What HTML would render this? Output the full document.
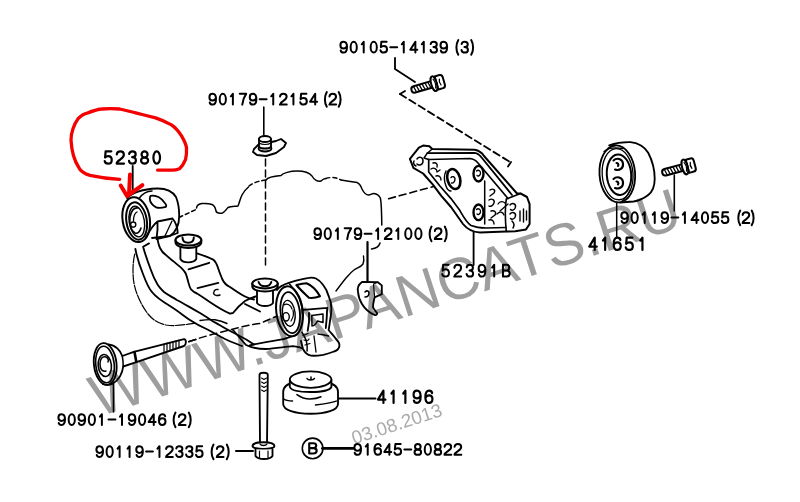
<!DOCTYPE html>
<html><head><meta charset="utf-8">
<style>
html,body{margin:0;padding:0;background:#fff;width:800px;height:502px;overflow:hidden}
svg{position:absolute;left:0;top:0;display:block}
.l{font-family:"Liberation Sans",sans-serif;fill:#000;stroke:#000}
.b{font-size:18.5px;stroke-width:0.5px}
.wm{font-family:"Liberation Sans",sans-serif;fill:#9e9e9e}
</style></head><body>
<svg width="800" height="502" viewBox="0 0 800 502">
<!-- watermark -->


<!-- LINE ART -->
<g fill="none" stroke="#000" stroke-width="1.85" stroke-linecap="round" stroke-linejoin="round">
<!-- 90105 bolt leader -->
<path d="M395,58 V69 L415,82"/>
<!-- 90105 bolt -->
<g transform="translate(436.5,83) rotate(-16)">
 <path d="M-3,-3.3 H-23 Q-26,-3.3 -26,0 Q-26,3.3 -23,3.3 H-3" fill="#fff" stroke-width="2"/>
 <path d="M-23.0,-2.6 L-21.8,2.6 M-20.0,-2.6 L-18.8,2.6 M-17.0,-2.6 L-15.8,2.6 M-14.0,-2.6 L-12.8,2.6 M-11.0,-2.6 L-9.8,2.6 M-8.0,-2.6 L-6.8,2.6" stroke-width="1.3"/>
 <path d="M0,-6.8 H5 Q7.6,-6.8 7.6,-3.5 V3.5 Q7.6,6.8 5,6.8 H0 Z" fill="#fff" stroke-width="2"/>
 <path d="M3.8,-3 C2.8,-1 2.8,1 3.8,3" stroke-width="1.3"/>
 <ellipse cx="-2.6" cy="0" rx="2.8" ry="7.6" fill="#fff" stroke-width="2"/>
 <path d="M-2.2,-4.5 C-1,-2 -1,2 -2.2,4.5" stroke-width="1.2"/>
</g>
<!-- dashed from 90105 to bracket -->
<path d="M405,91 L400,94"/>
<path d="M400,94 L510,162" stroke-dasharray="7,4"/>
<path d="M511,162 L508,166.5"/>

<!-- 90179-12154 clip -->
<path d="M263.8,107 V135" stroke-width="1.6"/>
<path d="M254,149 L258,145 L276,141 L281,139 L286,143 L284,147 L276,153 L266,156 L257,155 L253,152 Z" fill="#fff"/>
<ellipse cx="265" cy="148.5" rx="6.5" ry="3"/>
<path d="M259,139 V147 C261,149 269,149 271,147 V139" fill="#fff"/>
<path d="M259,143 C262,145 268,145 271,143" stroke-width="1.2"/>
<ellipse cx="265" cy="139" rx="6" ry="3" fill="#fff"/>
<!-- vertical dashed -->
<path d="M265.5,159 V265" stroke-dasharray="7,4" stroke-width="1.5"/>

<!-- wavy frame outline -->
<path d="M179,217.5 L196,209.5" stroke-dasharray="4,3" stroke-width="1.5"/>
<path d="M196.5,208 C197,205 199,204 202,203.6 C205,203.4 209,203.5 212,204.5 C214.5,205.5 215.5,208 216,211 C216.5,213 219,213.5 222.5,213 C225,212 226,209.5 228,207.5 C231,206 235,206.5 238,206 C239,204 240,199 242,195 C244,191 246,189 248.5,187" stroke-width="1.5"/>
<path d="M249,186 C253,183 258,181 266,180" stroke-dasharray="4,3" stroke-width="1.5"/>
<path d="M266,180 C268,177 275,176 281,175.5 C283,173 290,171 297,171 C304,171 309,172 312,176 C314,180 318,182 321,181 C323,179 325,178.5 326,178.5" stroke-width="1.4"/>
<path d="M326,178.5 C330,177 336,177 341,180" stroke-dasharray="4,3" stroke-width="1.4"/>
<path d="M341,180 C346,181 352,181.5 357.2,182.6 C360,184 361,186 362,189 C363.5,192 366,195 368.5,195 C371,195 372,193.3 374,193.5 C377,194 379,195.5 380.3,198 C381.5,202 381.6,210 381.8,225" stroke-width="1.5"/>
<path d="M380,243 C379,246.5 375.5,248.5 371.5,249" stroke-width="1.5"/>
<path d="M363.5,256 C364,259 364,262 363,264 C361,267 357,268 354,270 C350,273 348,276 346,278 C342,283 339,287 336,291" stroke-width="1.4"/>
<path d="M388.6,198.7 L450,182" stroke-dasharray="7,4" stroke-width="1.6"/>
</g>


<!-- PARTS2 -->
<g fill="none" stroke="#000" stroke-width="1.85" stroke-linecap="round" stroke-linejoin="round">
<!-- leaders -->
<path d="M132.7,166 V193"/>
<path d="M367.5,242 V282" stroke-width="2.2"/>
<path d="M473.6,232 V265"/>
<path d="M616.7,202 V237" stroke-width="1.5"/>
<path d="M674.3,175 V211" stroke-width="1.6"/>
<path d="M113.5,384 V412" stroke-width="1.6"/>
<path d="M236,451.1 H253" stroke-width="2"/>
<path d="M338,398.5 H375.5" stroke-width="2"/>
<path d="M322.5,448.4 H353" stroke-width="2.9"/>
<circle cx="312.6" cy="448.4" r="10.3" stroke-width="1.6"/>

<!-- 52380 bushing -->
<g>
 <path d="M127,198 C133,192 145,189 157,188.5 C166,188.3 172,190.5 176,197 C178.5,203 179.2,210 179.2,216 C179.2,224 177,231 170,236 L152,238" fill="#fff"/>
 <ellipse cx="136.2" cy="219.6" rx="13.6" ry="22.6" transform="rotate(-9 136.2 219.6)" fill="#fff" stroke-width="2"/>
 <ellipse cx="136.6" cy="221" rx="10.2" ry="18.8" transform="rotate(-9 136.6 221)" stroke-width="2"/>
 <ellipse cx="136.8" cy="221.5" rx="7.6" ry="15.5" transform="rotate(-9 136.8 221.5)" stroke-width="1.4"/>
 <path d="M138,208 C134,207 131,211 130,217 C129,224 131,231 135,233 C138,234 140,231 141,228" stroke-width="1.6"/>
 <path d="M137,212 C135,213 133.5,217 133.5,221" stroke-width="1.3"/>
 <circle cx="133.2" cy="224.6" r="2.6" stroke-width="1.4"/>
 <path d="M150.6,195.9 C156,195 161,198 164.2,202.3 C166,204 166.5,206 165.8,206.8 C162,208 158,208 156.2,207.4 C152,205 150,202 149.8,199.1 C149.8,197.5 150,196.5 150.6,195.9 Z" stroke-width="1.8"/>
 <path d="M139,198.5 C143,193 148,191 152,191" stroke-width="1.5"/>
 <path d="M146,237 C150,230 154,224 157.5,221.5 L172.5,218.5 M157.5,221.5 C157.8,227 157.5,233 156.5,239 M172.5,218.5 C175.5,222 177.5,228 177.7,233 C172,235.5 164,237.5 156.5,239"/>
 <path d="M172,221 L164.5,237" stroke-width="1.3"/>
</g>

<!-- control arm -->
<g>
 <!-- phantom thin line -->
 <path d="M134.7,254 C133,262 132.5,270 133.5,280 C135,292 141,305 148,314 C153,320 158,323 166,325 C175,326.5 186,324.5 195,323.2" stroke-width="1.2" stroke-dasharray="9,1.5"/>
 <path d="M200,320.5 C206,319.5 211,319.5 215,319.7 C220,320.5 224,322 227,323.5" stroke-width="1.4"/>
 <!-- L1 -->
 <path d="M135.4,249 C136.5,255 139,264 143,274 C146,282 149,289 152,292 C155,296 160,300 170,306 C178,311 184,316 189.5,319.7 C196,324 202,327 207.5,329.5 C215,333.5 220,336.5 224,338.5 C230,341.5 237,344 242,346"/>
 <!-- L2 -->
 <path d="M149,243.4 L143.1,246.7 C144,250 146,257 150.9,270 C153,276 155.5,281 157.4,284.2 C159,287 161,289 164,292 C168,295 172,297 176.8,300 C183,303 190,307.5 200,313 C205,316 208,318 210.5,319.7 C214,322 217,323.5 219.5,325 C226,329 231,331.5 236,334 C243,337.5 249,341 254,344.5"/>
 <!-- L3 -->
 <path d="M157.4,238.9 C158,242 159,246 160,248 C161.5,251 163,253 165.2,254.4 C168,257 170.5,259 172.9,260.9 C176,263.5 178.5,265.5 180.7,267.4 C183,269.5 185,271.5 185.9,273.9 C187,277 187.8,280 188.5,282.9 C189.3,286 190,288 191,289.4 C193,291.5 195,293 197,293.5 C202,296.5 206,299.5 210.5,302.5 C218,307.5 225,311.5 230,313.7 L233,313 C237,308 241,304 245,301 C249,299 252,297.5 255.5,296.5"/>
 <!-- L4 -->
 <path d="M196.2,253.1 C202,255 208,257 213.1,259.6 C215.5,261.5 217,264.5 218.3,268.7 C219.5,272.5 221,276 222.2,279 C224,283 226.5,285.5 230,287 C235,290.5 240,294 245,296.5 C248,298 251,299 254,299.5"/>
 <!-- cross lines -->
 <path d="M188.5,269.3 L209.2,262.8"/>
 <path d="M197.5,288.1 L218.3,282.9"/>
 <path d="M214,292 C214,290 216,289 218,289.5 M213.5,293 C214,295.5 217,296 220,295" stroke-width="1.4"/>
 <!-- L5 lower -->
 <path d="M245,304 C250,306.5 255,309 260,311.5"/>
 <!-- stud 1 -->
 <path d="M180.4,246 V259 C183,263.5 193.5,263.5 196.3,259 V246" fill="#fff"/>
 <path d="M175.5,240 V242.3 C175.5,245.6 181,247.9 188.4,247.9 C195.8,247.9 201.3,245.6 201.3,242.3 V240" fill="#fff" stroke-width="2"/>
 <ellipse cx="188.4" cy="240" rx="12.9" ry="5.6" fill="#fff" stroke-width="2"/>
 <path d="M182.5,237.6 C182.5,241.3 185,242.8 188.2,242.8 C191.4,242.8 193.8,241.3 193.8,237.6" stroke-width="2"/>
 <!-- stud 2 -->
 <path d="M257,290 V303 C260,307 270,307 273,303 V290" fill="#fff"/>
 <path d="M252.3,283.4 V286.5 C252.3,289.5 258,291.5 265,291.5 C272,291.5 277.7,289.5 277.7,286.5 V283.4" fill="#fff" stroke-width="2"/>
 <ellipse cx="265" cy="283.4" rx="12.7" ry="5" fill="#fff" stroke-width="2"/>
 <path d="M258.6,282 C259.5,285 262,286.3 265,286.3 C268,286.3 270.5,285 271.3,282" stroke-width="2"/>
 <!-- bottom edges near bushing 2 -->
 <path d="M233,330 L246,345 C252,348 258,349 266,349 C275,348.5 284,347 292.8,346.2 C298,346.5 303,348.5 307.1,350.7" />
 <path d="M249.7,345.3 C260,343 272,341 283.8,339 C292,336.5 299,333.5 305.3,331"/>
</g>

<!-- bushing 2 -->
<g>
 <path d="M277,290 C279,287 284,284.5 289.5,282.7 C296,280.5 303,278.5 309,277.8 C312,277.3 314,277.6 316,278.5 C319,280 321,282 323,284.8 C325.5,288 327.5,292 328.6,295.9 C330.5,300 331.4,304 331.4,308.5 C331.4,313 330.8,317 330,321 C329.5,325 329,328 328.6,330 C331,333 334,336 336,339 C338.5,341.5 339.7,344 339.4,346 C339,348.5 337.5,350.5 334,351.5 C330,353 327,354 323.3,354.8 C319,355.5 315,356 311,355.6 C307,355 304.5,352 303,349 L301,341" fill="#fff"/>
 <ellipse cx="289.5" cy="311.3" rx="13.2" ry="25.1" transform="rotate(-7 289.5 311.3)" fill="#fff" stroke-width="2"/>
 <ellipse cx="290.2" cy="312.6" rx="9.6" ry="20.6" transform="rotate(-7 290.2 312.6)" stroke-width="1.8"/>
 <ellipse cx="288.8" cy="313.3" rx="6.3" ry="13" transform="rotate(-7 288.8 313.3)" stroke-width="1.4"/>
 <ellipse cx="286" cy="316.8" rx="3.3" ry="4.2" stroke-width="1.4"/>
 <path d="M284,305 C287,303 291,305 292,309 M291,321 C293,318 294,314 293,310" stroke-width="1.2"/>
 <path d="M289.5,284 C293,288 297,293 299.5,299 C301.5,304 302.5,309 302.5,314" stroke-width="1.6"/>
 <path d="M296.4,285 C300,284 303,283.2 306.6,283.2 C311,285 316.5,290 320,296.2 C316,297.8 312.5,298.2 309,297.8 C305,294 300,289.5 296.4,285 Z" stroke-width="2.1"/>
 <path d="M303.5,309.9 L327.2,307.8 M309,313 C309.5,319 309,325 307.7,330.8 M327.2,307.8 C327,315 326.5,322 325.8,328"/>
 <path d="M311.8,315.4 L323,314 L323,322.4 L317.4,321 C316,324 314,326 312,326 Z" stroke-width="1.5"/>
 <path d="M302,332.2 C303.5,335 305,337.5 306.3,340.5 C307,344 307.5,348 307.1,351" stroke-width="1.5"/>
 <path d="M303,335.5 L308,333.5 M304,340 C306,341 308,341 309,339 M305,345 L310,343.5" stroke-width="1.2"/>
 <path d="M318,334 C322,334.5 325.5,335 328.5,336" stroke-width="1.5"/>
 <path d="M314,336 L316,352" stroke-width="1.3"/>
</g>

<!-- dashed lines (bolt to arm) -->
<path d="M189,341.5 C205,336 225,331 241,327 C250,325 256,323.7 260,323.5 C266,321 272,318 277,316" stroke-width="1.5" stroke-dasharray="7,4"/>


<!-- 90179-12100 clip -->
<path d="M362,282 C358,285 357,288 358,292 C358.5,297 360,301 362,304 C365,309 370,313 374.6,315 C376.5,315.5 377.5,314 377,313 C375.5,311 373.5,309 373,307 C373,303 374,300 374.6,297.4 L381.8,294.2 L381.8,285.4 L377.8,282.2 Z" fill="#fff"/>
<path d="M374.6,297.4 L373.5,284 M373.5,284 L377.8,282.2" stroke-width="1.2"/>
<path d="M365,292 C367,290 369,291 369,293 C369,295 368,297 365,297" stroke-width="1.6"/>

<!-- bracket 52391B -->
<g>
 <path d="M409.9,158.8 L418.9,147.7 L423.1,145.6 L429.4,146.3 L432.2,149 L474.7,149.8 C479,150.5 482,153 484,156 L517,193.5 L520.6,193.5 L527,197 L529.6,204.2 L529.6,224 L526,229.4 L515.3,231.2 L506.3,231.5 L480,232.5 C472,232 467,229 463,224 L451,207 L441.3,195.8 L432.9,184.6 L423.1,173.5 L413.4,167.9 Z" fill="#fff" stroke-width="2"/>
 <path d="M427.3,153.2 L474.5,152.8 C478,153.3 480,155 482,158 L512,195"/>
 <path d="M428.7,159.5 L470,158.5 C474,158.8 476,160.5 478,163 L508,198.5" stroke-width="1.7"/>
 <path d="M428.7,159.5 L428.7,172 L439.9,186 L451,198.6 L459.4,209.7 C463,216 466,222 471,225.5 C476,227.5 481,228 486,228 L506,227.5" stroke-width="1.7"/>
 <path d="M432.2,149 L427.3,153.2 L424,158 L428.7,159.5" stroke-width="1.5"/>
 <ellipse cx="453.8" cy="179" rx="6.3" ry="10.2" transform="rotate(-15 453.8 179)" stroke-width="2.6"/>
 <path d="M451,177.6 C452,176 455,176.5 455,179 C455,182 453,183.5 451.5,183" stroke-width="1.4"/>
 <path d="M446,171 C444,175 444,181 446,186 C447,189 449,191 451,191" stroke-width="1.4"/>
 <ellipse cx="478.5" cy="173.7" rx="5" ry="7.8" stroke-width="2.4"/>
 <path d="M476.5,171 C478,169.5 481,170.5 480.5,173.5 C480,176 478,176.5 477,175.5" stroke-width="1.3"/>
 <ellipse cx="478.5" cy="212.3" rx="5" ry="7.8" stroke-width="2.4"/>
 <path d="M476.5,209.5 C478,208 481,209 480.5,212 C480,214.5 478,215 477,214" stroke-width="1.3"/>
 <path d="M484.7,181 V224" stroke-width="1.5"/>
 <path d="M417,159 C419,156 423,157 423,161 C423,165 419,166 417,164 M414,161 C413,163 414,165 416,166" stroke-width="1.5"/>
 <path d="M433,163 C436,162 438,164 437,167 M431,169 C434,167 437,169 437,172 L440,170 M436,176 C439,175 441,177 441,180" stroke-width="1.4"/>
 <path d="M490,190 C493,188 496,190 494,193 L490,196 M489,200 C492,198 495,200 494,203 C493,206 490,207 489,206 M491,211 C494,210 497,212 495,215 L491,218 M489,220 C492,219 494,221 494,224" stroke-width="1.4"/>
 <path d="M498,204 C500,201 503,201 505,203 M497,214 C500,211 503,212 504,215" stroke-width="1.3"/>
 <path d="M506.3,199 L520.6,193.5 M506.3,199 C505,207 505,218 506.3,231.5" stroke-width="1.6"/>
 <path d="M500,211 L508,204" stroke-width="1.3"/>
 <path d="M510,205 C512,202.5 516,203.5 515.5,207 C515,210 512,211 510.5,209.5 M510,214 C512,211.5 516,212.5 515.5,216 C515,219 512,220 510.5,218.5 M512,221 C514,223 515,225 513,228" stroke-width="1.5"/>
 <path d="M520,211 V221 M523.5,209 V222 M526.5,211 V220" stroke-width="1.4"/>
</g>

<!-- pulley 41651 -->
<g>
 <path d="M609.2,145.4 C616,143 623,142 630.4,142.2 C638,142.5 645,147 648.2,152.7 C652,160 654.7,169 654.7,178.7 C654.7,186 652,192 648.2,195 C643,199 638,201 633.6,201.5 L620,202.5" fill="#fff"/>
 <ellipse cx="617.3" cy="173.9" rx="17.8" ry="28.5" transform="rotate(-4 617.3 173.9)" fill="#fff"/>
 <ellipse cx="619" cy="174.7" rx="12.2" ry="20.3" transform="rotate(-4 619 174.7)" stroke-width="2"/>
 <ellipse cx="617.6" cy="174.2" rx="15.4" ry="25.6" transform="rotate(-4 617.6 174.2)" stroke-width="1.3"/>
 <path d="M604,151.5 C608,148 614,147 623,148.5" stroke-width="1.3"/>
 <path d="M630,190 C628,195 625,199 622,201" stroke-width="1.3"/>
 <path d="M613.5,160.5 C616.5,157.5 622.5,158.5 623,163.5 C623.5,168.5 619.5,171 615,169.5 M616.5,163 C618,163 619,164.5 618,166" stroke-width="2.1"/>
 <path d="M613.5,179 C616.5,176 622.5,177 623,182 C623.5,187 619.5,189.5 615,188 M616.5,181.5 C618,181.5 619,183 618,184.5" stroke-width="2.1"/>
</g>

<!-- bolt 90119-14055 -->
<g transform="translate(687.4,166.3) rotate(-15)">
 <path d="M-3,-3.3 H-23 Q-26,-3.3 -26,0 Q-26,3.3 -23,3.3 H-3" fill="#fff" stroke-width="2"/>
 <path d="M-23.0,-2.6 L-21.8,2.6 M-20.0,-2.6 L-18.8,2.6 M-17.0,-2.6 L-15.8,2.6 M-14.0,-2.6 L-12.8,2.6 M-11.0,-2.6 L-9.8,2.6 M-8.0,-2.6 L-6.8,2.6" stroke-width="1.3"/>
 <path d="M0,-6.8 H5 Q7.6,-6.8 7.6,-3.5 V3.5 Q7.6,6.8 5,6.8 H0 Z" fill="#fff" stroke-width="2"/>
 <path d="M3.8,-3 C2.8,-1 2.8,1 3.8,3" stroke-width="1.3"/>
 <ellipse cx="-2.6" cy="0" rx="2.8" ry="7.6" fill="#fff" stroke-width="2"/>
 <path d="M-2.2,-4.5 C-1,-2 -1,2 -2.2,4.5" stroke-width="1.2"/>
</g>

<!-- bolt 90901-19046 -->
<g>
 <path d="M108.4,344.3 C115.5,345 120.5,350.5 122.3,356 L133.8,351.8 L184,339.2 C186.5,339.5 186.5,344.5 184,346 L135.6,362.3 L123.2,366.5 C122.5,372.5 119,379.5 113,383.6 C110,385 106,385.2 103,384.2" fill="#fff"/>
 <ellipse cx="105.2" cy="364" rx="11.3" ry="21" transform="rotate(-6 105.2 364)" fill="#fff"/>
 <ellipse cx="105" cy="364.5" rx="9.2" ry="18.3" transform="rotate(-6 105 364.5)" stroke-width="1.6"/>
 <ellipse cx="104.8" cy="365.5" rx="6.6" ry="11" transform="rotate(-6 104.8 365.5)" stroke-width="1.6"/>
 <path d="M106,357 C102,356 100,359 100,364 C100,369 102,372 106,371 M106,357 C108,358 109,360 108,362" stroke-width="1.5"/>
 <path d="M122.3,356 C122.9,359 123.2,363 123.2,366.5" stroke-width="1.5"/>
 <path d="M134.5,352 L136.3,361.8" stroke-width="2.6"/>
 <path d="M164,344 V351.5 M167,343 V350.5 M170,342.3 V349.8 M173,341.5 V349 M176,340.8 V348.2 M179,340 V347.5" stroke-width="1.2"/>
</g>
<path d="M188.8,341.7 L196,339.5" stroke-width="1.5"/>

<!-- 41196 rubber mount -->
<g>
 <path d="M283.2,392 C283.2,386 290,383 296,382 L325,382 C332,383 338,386 338,392 V404 C338,410 326,413.7 310.6,413.7 C295,413.7 283.2,410 283.2,404 Z" fill="#fff"/>
 <path d="M283.8,399 C285,400 289,401 292.5,401.1" stroke-width="1.5"/>
 <path d="M315.5,405 C324,404 331,403 336.3,401.1" stroke-width="1.5"/>
 <path d="M296.9,394.6 C301,397.5 306,399 310,399 C315,399 318.5,398 321,396.8" stroke-width="1.5"/>
 <path d="M289.8,380 V387 C291,390 299,392 310.6,392 C322,392 330,390 331.4,387 V380" fill="#fff"/>
 <ellipse cx="310.6" cy="379.6" rx="20.8" ry="8.2" fill="#fff"/>
 <path d="M307,378.5 C308,380.5 313,380.5 314.5,378.5 M311,377 V379.5" stroke-width="1.5"/>
</g>

<!-- long bolt 90119-12335 -->
<g>
 <path d="M259.5,375 C259.5,372 267.8,372 267.8,375 L267,444 H260 Z" fill="#fff"/>
 <path d="M261.5,378 L264,379.5 L266.5,378 M261.5,382 L264,383.5 L266.5,382 M261.5,386 L264,387.5 L266.5,386 M261.5,390 L264,391.5 L266.5,390" stroke-width="1.1"/>
 <path d="M252.5,446 C252.5,441 274.5,441 274.5,446 C274.5,450 252.5,450 252.5,446 Z" fill="#fff"/>
 <path d="M255.5,449.5 V456 C258,460 270,460 272.5,456 V449.5" fill="#fff"/>
 <path d="M259.5,451 V458 M268,451 V458" stroke-width="1.2"/>
 <path d="M260,444 C261,446 266,446 267,444" stroke-width="1.3"/>
</g>

<!-- red annotation -->
<g stroke="#f50000" stroke-width="3.3">
 <path d="M119.7,179.3 C113,179 100,177.5 90,175.3 C84,173.5 80.5,171 78.9,167.7 C74,160 71.5,150 71,139.8 C71,133 74,124 77.9,118.9 C81,115.5 84,113.8 87.9,112.9 C94,110.5 98,109.2 101.8,109 C108,108.5 114,108.6 119.7,109 C125,110 130,111.5 135.7,112.9 C142,114.5 150,116.5 155.6,117.9 C162,120 167,122.5 171.5,124.9 C176,128 179,132 181.5,135.8 C184,140 186,144 186.5,147.8 C186.7,152 186.5,156 185.5,159.7 C184,163.5 182,166.5 179.5,168.7 C176,170 173,170.2 171.5,170.1 L157.6,170.1"/>
 <path d="M130,174.5 L129,194 M120.7,185.5 L127,196 L142.4,185.2" stroke-width="4"/>
</g>
</g>
<!-- /PARTS2 -->

<!-- labels -->
<g fill="none" stroke="#000" stroke-linecap="round" stroke-linejoin="round">
<g stroke-width="2.0"><path d="M 340.70,50.50 C 341.00,51.90 342.10,52.60 343.50,52.60 C 345.80,52.60 347.00,50.40 347.00,46.90 C 347.00,43.50 345.80,41.80 343.60,41.80 C 341.60,41.80 340.40,43.20 340.40,45.20 C 340.40,47.20 341.60,48.50 343.50,48.50 C 345.20,48.50 346.50,47.50 347.00,45.90 M 361.72,44.30 L 363.72,41.80 L 363.72,52.60 M 386.64,41.80 L 381.34,41.80 L 380.84,47.20 C 381.54,46.30 382.54,45.90 383.74,45.90 C 385.84,45.90 387.04,47.30 387.04,49.30 C 387.04,51.40 385.64,52.60 383.64,52.60 C 381.94,52.60 380.74,51.70 380.44,50.30 M 390.30,47.20 L 397.20,47.20 M 401.76,44.30 L 403.76,41.80 L 403.76,52.60 M 415.37,52.60 L 415.37,41.80 L 410.27,49.70 L 417.27,49.70 M 421.78,44.30 L 423.78,41.80 L 423.78,52.60 M 430.69,44.10 C 430.99,42.50 432.29,41.80 433.79,41.80 C 435.69,41.80 436.79,42.90 436.79,44.40 C 436.79,46.00 435.49,46.90 433.49,46.90 C 435.79,46.90 436.99,48.20 436.99,49.90 C 436.99,51.70 435.69,52.60 433.79,52.60 C 431.99,52.60 430.79,51.70 430.59,50.10 M 440.80,50.50 C 441.10,51.90 442.20,52.60 443.60,52.60 C 445.90,52.60 447.10,50.40 447.10,46.90 C 447.10,43.50 445.90,41.80 443.70,41.80 C 441.70,41.80 440.50,43.20 440.50,45.20 C 440.50,47.20 441.70,48.50 443.60,48.50 C 445.30,48.50 446.60,47.50 447.10,45.90"/><ellipse cx="353.71" cy="47.20" rx="3.10" ry="5.40"/><ellipse cx="373.73" cy="47.20" rx="3.10" ry="5.40"/></g>
<g stroke-width="2.0"><path d="M 458.30,40.10 C 456.90,42.50 456.40,44.90 456.40,47.50 C 456.40,50.10 456.90,52.50 458.30,54.70 M 461.65,44.10 C 461.95,42.50 463.25,41.80 464.75,41.80 C 466.65,41.80 467.75,42.90 467.75,44.40 C 467.75,46.00 466.45,46.90 464.45,46.90 C 466.75,46.90 467.95,48.20 467.95,49.90 C 467.95,51.70 466.65,52.60 464.75,52.60 C 462.95,52.60 461.75,51.70 461.55,50.10 M 471.20,40.10 C 472.60,42.50 473.10,44.90 473.10,47.50 C 473.10,50.10 472.60,52.50 471.20,54.70"/></g>
<g stroke-width="2.0"><path d="M 209.70,102.50 C 210.00,103.90 211.10,104.60 212.50,104.60 C 214.80,104.60 216.00,102.40 216.00,98.90 C 216.00,95.50 214.80,93.80 212.60,93.80 C 210.60,93.80 209.40,95.20 209.40,97.20 C 209.40,99.20 210.60,100.50 212.50,100.50 C 214.20,100.50 215.50,99.50 216.00,97.90 M 230.88,96.30 L 232.88,93.80 L 232.88,104.60 M 239.77,93.80 L 246.17,93.80 C 244.17,96.50 242.77,100.00 242.27,104.60 M 250.06,102.50 C 250.36,103.90 251.46,104.60 252.86,104.60 C 255.16,104.60 256.36,102.40 256.36,98.90 C 256.36,95.50 255.16,93.80 252.96,93.80 C 250.96,93.80 249.76,95.20 249.76,97.20 C 249.76,99.20 250.96,100.50 252.86,100.50 C 254.56,100.50 255.86,99.50 256.36,97.90 M 259.70,99.20 L 266.60,99.20 M 271.24,96.30 L 273.24,93.80 L 273.24,104.60 M 280.03,96.50 C 280.23,94.60 281.63,93.80 283.33,93.80 C 285.33,93.80 286.63,94.90 286.63,96.70 C 286.63,98.60 285.13,99.70 283.33,100.90 C 281.43,102.10 280.03,103.20 279.93,104.60 L 286.73,104.60 M 291.42,96.30 L 293.42,93.80 L 293.42,104.60 M 306.41,93.80 L 301.11,93.80 L 300.61,99.20 C 301.31,98.30 302.31,97.90 303.51,97.90 C 305.61,97.90 306.81,99.30 306.81,101.30 C 306.81,103.40 305.41,104.60 303.41,104.60 C 301.71,104.60 300.51,103.70 300.21,102.30 M 315.20,104.60 L 315.20,93.80 L 310.10,101.70 L 317.10,101.70"/><ellipse cx="222.79" cy="99.20" rx="3.10" ry="5.40"/></g>
<g stroke-width="2.0"><path d="M 326.80,92.10 C 325.40,94.50 324.90,96.90 324.90,99.50 C 324.90,102.10 325.40,104.50 326.80,106.70 M 329.45,96.50 C 329.65,94.60 331.05,93.80 332.75,93.80 C 334.75,93.80 336.05,94.90 336.05,96.70 C 336.05,98.60 334.55,99.70 332.75,100.90 C 330.85,102.10 329.45,103.20 329.35,104.60 L 336.15,104.60 M 338.70,92.10 C 340.10,94.50 340.60,96.90 340.60,99.50 C 340.60,102.10 340.10,104.50 338.70,106.70"/></g>
<g stroke-width="2.0"><path d="M 314.70,237.00 C 315.00,238.40 316.10,239.10 317.50,239.10 C 319.80,239.10 321.00,236.90 321.00,233.40 C 321.00,230.00 319.80,228.30 317.60,228.30 C 315.60,228.30 314.40,229.70 314.40,231.70 C 314.40,233.70 315.60,235.00 317.50,235.00 C 319.20,235.00 320.50,234.00 321.00,232.40 M 335.84,230.80 L 337.84,228.30 L 337.84,239.10 M 344.71,228.30 L 351.11,228.30 C 349.11,231.00 347.71,234.50 347.21,239.10 M 354.98,237.00 C 355.28,238.40 356.38,239.10 357.78,239.10 C 360.08,239.10 361.28,236.90 361.28,233.40 C 361.28,230.00 360.08,228.30 357.88,228.30 C 355.88,228.30 354.68,229.70 354.68,231.70 C 354.68,233.70 355.88,235.00 357.78,235.00 C 359.48,235.00 360.78,234.00 361.28,232.40 M 364.60,233.70 L 371.50,233.70 M 376.12,230.80 L 378.12,228.30 L 378.12,239.10 M 384.89,231.00 C 385.09,229.10 386.49,228.30 388.19,228.30 C 390.19,228.30 391.49,229.40 391.49,231.20 C 391.49,233.10 389.99,234.20 388.19,235.40 C 386.29,236.60 384.89,237.70 384.79,239.10 L 391.59,239.10 M 396.26,230.80 L 398.26,228.30 L 398.26,239.10"/><ellipse cx="327.77" cy="233.70" rx="3.10" ry="5.40"/><ellipse cx="408.33" cy="233.70" rx="3.10" ry="5.40"/><ellipse cx="418.40" cy="233.70" rx="3.10" ry="5.40"/></g>
<g stroke-width="2.0"><path d="M 431.50,226.60 C 430.10,229.00 429.60,231.40 429.60,234.00 C 429.60,236.60 430.10,239.00 431.50,241.20 M 434.85,231.00 C 435.05,229.10 436.45,228.30 438.15,228.30 C 440.15,228.30 441.45,229.40 441.45,231.20 C 441.45,233.10 439.95,234.20 438.15,235.40 C 436.25,236.60 434.85,237.70 434.75,239.10 L 441.55,239.10 M 444.80,226.60 C 446.20,229.00 446.70,231.40 446.70,234.00 C 446.70,236.60 446.20,239.00 444.80,241.20"/></g>
<g stroke-width="2.0"><path d="M 621.60,220.90 C 621.90,222.30 623.00,223.00 624.40,223.00 C 626.70,223.00 627.90,220.80 627.90,217.30 C 627.90,213.90 626.70,212.20 624.50,212.20 C 622.50,212.20 621.30,213.60 621.30,215.60 C 621.30,217.60 622.50,218.90 624.40,218.90 C 626.10,218.90 627.40,217.90 627.90,216.30 M 642.70,214.70 L 644.70,212.20 L 644.70,223.00 M 652.75,214.70 L 654.75,212.20 L 654.75,223.00 M 661.80,220.90 C 662.10,222.30 663.20,223.00 664.60,223.00 C 666.90,223.00 668.10,220.80 668.10,217.30 C 668.10,213.90 666.90,212.20 664.70,212.20 C 662.70,212.20 661.50,213.60 661.50,215.60 C 661.50,217.60 662.70,218.90 664.60,218.90 C 666.30,218.90 667.60,217.90 668.10,216.30 M 671.40,217.60 L 678.30,217.60 M 682.90,214.70 L 684.90,212.20 L 684.90,223.00 M 696.55,223.00 L 696.55,212.20 L 691.45,220.10 L 698.45,220.10 M 717.95,212.20 L 712.65,212.20 L 712.15,217.60 C 712.85,216.70 713.85,216.30 715.05,216.30 C 717.15,216.30 718.35,217.70 718.35,219.70 C 718.35,221.80 716.95,223.00 714.95,223.00 C 713.25,223.00 712.05,222.10 711.75,220.70 M 728.00,212.20 L 722.70,212.20 L 722.20,217.60 C 722.90,216.70 723.90,216.30 725.10,216.30 C 727.20,216.30 728.40,217.70 728.40,219.70 C 728.40,221.80 727.00,223.00 725.00,223.00 C 723.30,223.00 722.10,222.10 721.80,220.70"/><ellipse cx="634.65" cy="217.60" rx="3.10" ry="5.40"/><ellipse cx="705.00" cy="217.60" rx="3.10" ry="5.40"/></g>
<g stroke-width="2.0"><path d="M 740.20,210.50 C 738.80,212.90 738.30,215.30 738.30,217.90 C 738.30,220.50 738.80,222.90 740.20,225.10 M 742.65,214.90 C 742.85,213.00 744.25,212.20 745.95,212.20 C 747.95,212.20 749.25,213.30 749.25,215.10 C 749.25,217.00 747.75,218.10 745.95,219.30 C 744.05,220.50 742.65,221.60 742.55,223.00 L 749.35,223.00 M 751.70,210.50 C 753.10,212.90 753.60,215.30 753.60,217.90 C 753.60,220.50 753.10,222.90 751.70,225.10"/></g>
<g stroke-width="2.0"><path d="M 58.70,422.90 C 59.00,424.30 60.10,425.00 61.50,425.00 C 63.80,425.00 65.00,422.80 65.00,419.30 C 65.00,415.90 63.80,414.20 61.60,414.20 C 59.60,414.20 58.40,415.60 58.40,417.60 C 58.40,419.60 59.60,420.90 61.50,420.90 C 63.20,420.90 64.50,419.90 65.00,418.30 M 78.80,422.90 C 79.10,424.30 80.20,425.00 81.60,425.00 C 83.90,425.00 85.10,422.80 85.10,419.30 C 85.10,415.90 83.90,414.20 81.70,414.20 C 79.70,414.20 78.50,415.60 78.50,417.60 C 78.50,419.60 79.70,420.90 81.60,420.90 C 83.30,420.90 84.60,419.90 85.10,418.30 M 99.90,416.70 L 101.90,414.20 L 101.90,425.00 M 108.50,419.60 L 115.40,419.60 M 120.00,416.70 L 122.00,414.20 L 122.00,425.00 M 129.05,422.90 C 129.35,424.30 130.45,425.00 131.85,425.00 C 134.15,425.00 135.35,422.80 135.35,419.30 C 135.35,415.90 134.15,414.20 131.95,414.20 C 129.95,414.20 128.75,415.60 128.75,417.60 C 128.75,419.60 129.95,420.90 131.85,420.90 C 133.55,420.90 134.85,419.90 135.35,418.30 M 153.75,425.00 L 153.75,414.20 L 148.65,422.10 L 155.65,422.10 M 165.20,416.30 C 164.90,414.90 163.80,414.20 162.40,414.20 C 160.10,414.20 158.90,416.40 158.90,419.90 C 158.90,423.30 160.10,425.00 162.30,425.00 C 164.30,425.00 165.50,423.60 165.50,421.60 C 165.50,419.60 164.30,418.30 162.40,418.30 C 160.70,418.30 159.40,419.30 158.90,420.90"/><ellipse cx="71.75" cy="419.60" rx="3.10" ry="5.40"/><ellipse cx="91.85" cy="419.60" rx="3.10" ry="5.40"/><ellipse cx="142.10" cy="419.60" rx="3.10" ry="5.40"/></g>
<g stroke-width="2.0"><path d="M 175.50,412.50 C 174.10,414.90 173.60,417.30 173.60,419.90 C 173.60,422.50 174.10,424.90 175.50,427.10 M 178.85,416.90 C 179.05,415.00 180.45,414.20 182.15,414.20 C 184.15,414.20 185.45,415.30 185.45,417.10 C 185.45,419.00 183.95,420.10 182.15,421.30 C 180.25,422.50 178.85,423.60 178.75,425.00 L 185.55,425.00 M 188.80,412.50 C 190.20,414.90 190.70,417.30 190.70,419.90 C 190.70,422.50 190.20,424.90 188.80,427.10"/></g>
<g stroke-width="2.0"><path d="M 96.70,454.90 C 97.00,456.30 98.10,457.00 99.50,457.00 C 101.80,457.00 103.00,454.80 103.00,451.30 C 103.00,447.90 101.80,446.20 99.60,446.20 C 97.60,446.20 96.40,447.60 96.40,449.60 C 96.40,451.60 97.60,452.90 99.50,452.90 C 101.20,452.90 102.50,451.90 103.00,450.30 M 117.62,448.70 L 119.62,446.20 L 119.62,457.00 M 127.58,448.70 L 129.58,446.20 L 129.58,457.00 M 136.54,454.90 C 136.84,456.30 137.94,457.00 139.34,457.00 C 141.64,457.00 142.84,454.80 142.84,451.30 C 142.84,447.90 141.64,446.20 139.44,446.20 C 137.44,446.20 136.24,447.60 136.24,449.60 C 136.24,451.60 137.44,452.90 139.34,452.90 C 141.04,452.90 142.34,451.90 142.84,450.30 M 146.05,451.60 L 152.95,451.60 M 157.46,448.70 L 159.46,446.20 L 159.46,457.00 M 166.12,448.90 C 166.32,447.00 167.72,446.20 169.42,446.20 C 171.42,446.20 172.72,447.30 172.72,449.10 C 172.72,451.00 171.22,452.10 169.42,453.30 C 167.52,454.50 166.12,455.60 166.02,457.00 L 172.82,457.00 M 176.28,448.50 C 176.58,446.90 177.88,446.20 179.38,446.20 C 181.28,446.20 182.38,447.30 182.38,448.80 C 182.38,450.40 181.08,451.30 179.08,451.30 C 181.38,451.30 182.58,452.60 182.58,454.30 C 182.58,456.10 181.28,457.00 179.38,457.00 C 177.58,457.00 176.38,456.10 176.18,454.50 M 186.24,448.50 C 186.54,446.90 187.84,446.20 189.34,446.20 C 191.24,446.20 192.34,447.30 192.34,448.80 C 192.34,450.40 191.04,451.30 189.04,451.30 C 191.34,451.30 192.54,452.60 192.54,454.30 C 192.54,456.10 191.24,457.00 189.34,457.00 C 187.54,457.00 186.34,456.10 186.14,454.50 M 202.20,446.20 L 196.90,446.20 L 196.40,451.60 C 197.10,450.70 198.10,450.30 199.30,450.30 C 201.40,450.30 202.60,451.70 202.60,453.70 C 202.60,455.80 201.20,457.00 199.20,457.00 C 197.50,457.00 196.30,456.10 196.00,454.70"/><ellipse cx="109.66" cy="451.60" rx="3.10" ry="5.40"/></g>
<g stroke-width="2.0"><path d="M 213.50,444.50 C 212.10,446.90 211.60,449.30 211.60,451.90 C 211.60,454.50 212.10,456.90 213.50,459.10 M 216.85,448.90 C 217.05,447.00 218.45,446.20 220.15,446.20 C 222.15,446.20 223.45,447.30 223.45,449.10 C 223.45,451.00 221.95,452.10 220.15,453.30 C 218.25,454.50 216.85,455.60 216.75,457.00 L 223.55,457.00 M 226.80,444.50 C 228.20,446.90 228.70,449.30 228.70,451.90 C 228.70,454.50 228.20,456.90 226.80,459.10"/></g>
<g stroke-width="2.0"><path d="M 354.70,452.75 C 355.00,454.15 356.10,454.85 357.50,454.85 C 359.80,454.85 361.00,452.65 361.00,449.15 C 361.00,445.75 359.80,444.05 357.60,444.05 C 355.60,444.05 354.40,445.45 354.40,447.45 C 354.40,449.45 355.60,450.75 357.50,450.75 C 359.20,450.75 360.50,449.75 361.00,448.15 M 365.72,446.55 L 367.72,444.05 L 367.72,454.85 M 380.74,446.15 C 380.44,444.75 379.34,444.05 377.94,444.05 C 375.64,444.05 374.44,446.25 374.44,449.75 C 374.44,453.15 375.64,454.85 377.84,454.85 C 379.84,454.85 381.04,453.45 381.04,451.45 C 381.04,449.45 379.84,448.15 377.94,448.15 C 376.24,448.15 374.94,449.15 374.44,450.75 M 389.36,454.85 L 389.36,444.05 L 384.26,451.95 L 391.26,451.95 M 400.68,444.05 L 395.38,444.05 L 394.88,449.45 C 395.58,448.55 396.58,448.15 397.78,448.15 C 399.88,448.15 401.08,449.55 401.08,451.55 C 401.08,453.65 399.68,454.85 397.68,454.85 C 395.98,454.85 394.78,453.95 394.48,452.55 M 404.35,449.45 L 411.25,449.45 M 444.58,446.75 C 444.78,444.85 446.18,444.05 447.88,444.05 C 449.88,444.05 451.18,445.15 451.18,446.95 C 451.18,448.85 449.68,449.95 447.88,451.15 C 445.98,452.35 444.58,453.45 444.48,454.85 L 451.28,454.85 M 454.60,446.75 C 454.80,444.85 456.20,444.05 457.90,444.05 C 459.90,444.05 461.20,445.15 461.20,446.95 C 461.20,448.85 459.70,449.95 457.90,451.15 C 456.00,452.35 454.60,453.45 454.50,454.85 L 461.30,454.85"/><ellipse cx="417.82" cy="446.75" rx="2.80" ry="2.70"/><ellipse cx="417.82" cy="452.15" rx="3.30" ry="2.70"/><ellipse cx="427.84" cy="449.45" rx="3.10" ry="5.40"/><ellipse cx="437.86" cy="446.75" rx="2.80" ry="2.70"/><ellipse cx="437.86" cy="452.15" rx="3.30" ry="2.70"/></g>
<g stroke-width="2.0"><path d="M 448.54,264.85 L 443.14,264.85 L 442.63,270.73 C 443.34,269.75 444.36,269.32 445.58,269.32 C 447.73,269.32 448.95,270.84 448.95,273.02 C 448.95,275.31 447.52,276.62 445.48,276.62 C 443.75,276.62 442.52,275.64 442.22,274.11 M 454.36,267.79 C 454.57,265.72 456.00,264.85 457.73,264.85 C 459.77,264.85 461.10,266.05 461.10,268.01 C 461.10,270.08 459.57,271.28 457.73,272.59 C 455.79,273.89 454.36,275.09 454.26,276.62 L 461.20,276.62 M 466.71,267.35 C 467.02,265.61 468.35,264.85 469.88,264.85 C 471.81,264.85 472.94,266.05 472.94,267.68 C 472.94,269.43 471.61,270.41 469.57,270.41 C 471.92,270.41 473.14,271.82 473.14,273.68 C 473.14,275.64 471.81,276.62 469.88,276.62 C 468.04,276.62 466.82,275.64 466.61,273.89 M 478.96,274.33 C 479.27,275.86 480.39,276.62 481.82,276.62 C 484.17,276.62 485.39,274.22 485.39,270.41 C 485.39,266.70 484.17,264.85 481.92,264.85 C 479.88,264.85 478.66,266.37 478.66,268.55 C 478.66,270.73 479.88,272.15 481.82,272.15 C 483.55,272.15 484.88,271.06 485.39,269.32 M 492.15,267.57 L 494.19,264.85 L 494.19,276.62 M 502.95,276.62 L 502.95,264.85 L 506.62,264.85 C 508.46,264.85 509.27,265.94 509.27,267.57 C 509.27,269.43 508.15,270.52 506.62,270.52 L 502.95,270.52 M 506.62,270.52 C 508.66,270.52 509.68,271.82 509.68,273.57 C 509.68,275.42 508.56,276.62 506.62,276.62 L 502.95,276.62"/></g>
<g stroke-width="2.2"><path d="M 111.30,151.36 L 105.63,151.36 L 105.09,157.52 C 105.84,156.49 106.91,156.04 108.19,156.04 C 110.44,156.04 111.73,157.63 111.73,159.91 C 111.73,162.31 110.23,163.67 108.09,163.67 C 106.27,163.67 104.98,162.65 104.66,161.05 M 116.79,154.44 C 117.01,152.27 118.51,151.36 120.33,151.36 C 122.47,151.36 123.86,152.62 123.86,154.67 C 123.86,156.83 122.25,158.09 120.33,159.46 C 118.29,160.82 116.79,162.08 116.69,163.67 L 123.96,163.67 M 129.14,153.98 C 129.46,152.16 130.85,151.36 132.46,151.36 C 134.49,151.36 135.67,152.62 135.67,154.33 C 135.67,156.15 134.28,157.18 132.14,157.18 C 134.60,157.18 135.88,158.66 135.88,160.60 C 135.88,162.65 134.49,163.67 132.46,163.67 C 130.53,163.67 129.25,162.65 129.03,160.82"/><ellipse cx="144.59" cy="154.44" rx="3.00" ry="3.08"/><ellipse cx="144.59" cy="160.60" rx="3.53" ry="3.08"/><ellipse cx="156.72" cy="157.52" rx="3.32" ry="6.16"/></g>
<g stroke-width="2.2"><path d="M 594.72,249.97 L 594.72,237.66 L 589.26,246.67 L 596.75,246.67 M 603.03,240.51 L 605.17,237.66 L 605.17,249.97 M 620.40,240.06 C 620.08,238.46 618.90,237.66 617.40,237.66 C 614.94,237.66 613.66,240.17 613.66,244.16 C 613.66,248.04 614.94,249.97 617.29,249.97 C 619.43,249.97 620.72,248.38 620.72,246.10 C 620.72,243.82 619.43,242.34 617.40,242.34 C 615.58,242.34 614.19,243.48 613.66,245.30 M 632.38,237.66 L 626.71,237.66 L 626.17,243.82 C 626.92,242.79 627.99,242.34 629.28,242.34 C 631.52,242.34 632.81,243.93 632.81,246.21 C 632.81,248.61 631.31,249.97 629.17,249.97 C 627.35,249.97 626.07,248.95 625.75,247.35 M 640.30,240.51 L 642.44,237.66 L 642.44,249.97"/></g>
<g stroke-width="2.2"><path d="M 383.42,402.97 L 383.42,390.66 L 377.96,399.67 L 385.45,399.67 M 391.44,393.51 L 393.58,390.66 L 393.58,402.97 M 403.24,393.51 L 405.38,390.66 L 405.38,402.97 M 413.90,400.58 C 414.22,402.18 415.39,402.97 416.89,402.97 C 419.35,402.97 420.64,400.47 420.64,396.48 C 420.64,392.60 419.35,390.66 417.00,390.66 C 414.86,390.66 413.58,392.26 413.58,394.54 C 413.58,396.82 414.86,398.30 416.89,398.30 C 418.71,398.30 420.10,397.16 420.64,395.34 M 432.12,393.06 C 431.79,391.46 430.62,390.66 429.12,390.66 C 426.66,390.66 425.37,393.17 425.37,397.16 C 425.37,401.04 426.66,402.97 429.01,402.97 C 431.15,402.97 432.44,401.38 432.44,399.10 C 432.44,396.82 431.15,395.34 429.12,395.34 C 427.30,395.34 425.91,396.48 425.37,398.30"/></g>
<g stroke-width="2.1"><path d="M 309.22,453.44 L 309.22,443.19 L 313.28,443.19 C 315.32,443.19 316.22,444.13 316.22,445.56 C 316.22,447.18 314.98,448.12 313.28,448.12 L 309.22,448.12 M 313.28,448.12 C 315.54,448.12 316.68,449.26 316.68,450.79 C 316.68,452.40 315.43,453.44 313.28,453.44 L 309.22,453.44"/></g>
</g>
<!-- /labels -->
<!-- wm -->
<g style="mix-blend-mode:multiply">
<text class="wm" font-size="58.7" transform="translate(97.8,417.3) rotate(-18.04)">WWW.JAPANCATS.RU</text>
<text class="wm" font-size="18.8" transform="translate(354,444.5) rotate(-18)" style="fill:#aaa">03.08.2013</text>
</g>
</svg>
</body></html>
